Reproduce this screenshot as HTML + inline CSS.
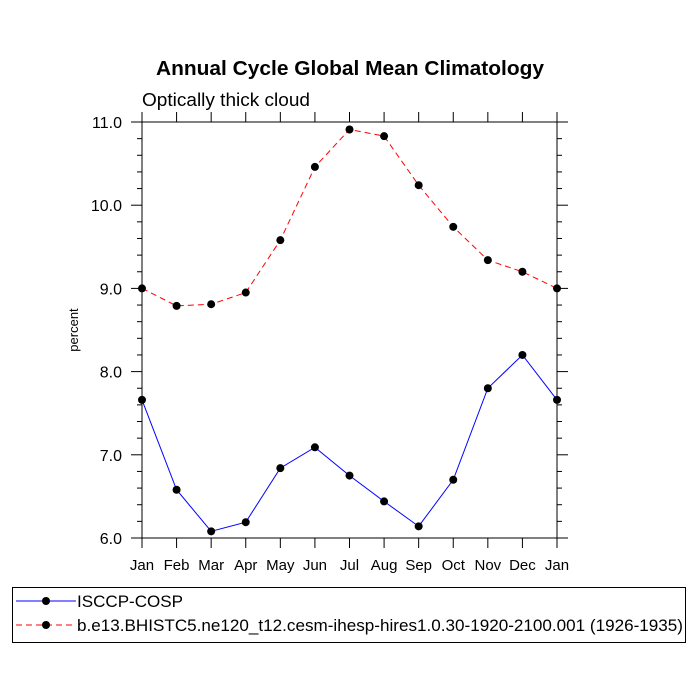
<!DOCTYPE html>
<html><head><meta charset="utf-8"><style>
body{margin:0;background:#fff;}
svg{display:block;font-family:"Liberation Sans",sans-serif;}
</style></head><body>
<svg id="chart" width="700" height="700" viewBox="0 0 700 700">
<rect width="700" height="700" fill="#fff"/>
<text x="350" y="75" text-anchor="middle" font-size="20" font-weight="bold" textLength="388" lengthAdjust="spacingAndGlyphs">Annual Cycle Global Mean Climatology</text>
<text x="142" y="106" font-size="18" textLength="168" lengthAdjust="spacingAndGlyphs">Optically thick cloud</text>
<text transform="translate(78,330) rotate(-90)" text-anchor="middle" font-size="13">percent</text>
<g id="axes"></g>
<g id="series"></g>
<rect x="12.5" y="587.5" width="673" height="55" fill="none" stroke="#000" stroke-width="1"/>
<line x1="16" y1="601" x2="76" y2="601" stroke="#00f" stroke-width="1"/>
<circle cx="46" cy="601" r="4" fill="#000"/>
<text x="77" y="607" font-size="17" textLength="106" lengthAdjust="spacingAndGlyphs">ISCCP-COSP</text>
<line x1="16" y1="625" x2="76" y2="625" stroke="#f00" stroke-width="1" stroke-dasharray="6,4"/>
<circle cx="46" cy="625" r="4" fill="#000"/>
<text x="77" y="631" font-size="17" textLength="606" lengthAdjust="spacingAndGlyphs">b.e13.BHISTC5.ne120_t12.cesm-ihesp-hires1.0.30-1920-2100.001 (1926-1935)</text>
</svg>
<script>
const months = ["Jan","Feb","Mar","Apr","May","Jun","Jul","Aug","Sep","Oct","Nov","Dec","Jan"];
const isccpValues = [7.66,6.58,6.08,6.19,6.84,7.09,6.75,6.44,6.14,6.70,7.80,8.20,7.66];
const modelValues = [9.00,8.79,8.81,8.95,9.58,10.46,10.91,10.83,10.24,9.74,9.34,9.20,9.00];
const yTicks = [6.0,7.0,8.0,9.0,10.0,11.0];
const yTickLabels = ["6.0","7.0","8.0","9.0","10.0","11.0"];

const X0=142,X1=557,Y0=538,Y1=122,YMIN=6,YMAX=11;
const xs=i=>X0+(X1-X0)*i/(months.length-1);
const ys=v=>Y0-(Y0-Y1)*(v-YMIN)/(YMAX-YMIN);
const NS="http://www.w3.org/2000/svg";
function mk(tag,attrs,parent){const e=document.createElementNS(NS,tag);for(const k in attrs)e.setAttribute(k,attrs[k]);parent.appendChild(e);return e;}
const axes=document.getElementById('axes');
const frame=mk('rect',{x:X0,y:Y1,width:X1-X0,height:Y0-Y1,fill:'none',stroke:'#000','stroke-width':1},axes);


months.forEach((m,i)=>{
  const x=xs(i);
  const t1=mk('line',{x1:x,y1:Y0,x2:x,y2:Y0+10,stroke:'#000'},axes);
  
  
  const t2=mk('line',{x1:x,y1:Y1,x2:x,y2:Y1-10,stroke:'#000'},axes);
  
  
  const l=mk('text',{x:x,y:Y0+32,'text-anchor':'middle','font-size':15},axes);
  l.textContent=m;
  
  
});
for(let v=YMIN;v<=YMAX+1e-6;v+=0.2){
  const y=ys(v);const major=Math.abs(v-Math.round(v))<1e-6;const len=major?11:5;
  const a=mk('line',{x1:X0-len,y1:y,x2:X0,y2:y,stroke:'#000'},axes);
  
  
  const b=mk('line',{x1:X1,y1:y,x2:X1+len,y2:y,stroke:'#000'},axes);
  
  
}
yTicks.forEach((v,i)=>{
  const l=mk('text',{x:X0-20,y:ys(v)+6,'text-anchor':'end','font-size':16},axes);
  l.textContent=yTickLabels[i];
  
  
});
const series=document.getElementById('series');
function draw(vals,color,dash,name){
  const p=mk('polyline',{points:vals.map((v,i)=>xs(i)+','+ys(v)).join(' '),fill:'none',stroke:color,'stroke-width':1,'stroke-dasharray':dash},series);
  
  
  vals.forEach((v,i)=>{
    const c=mk('circle',{cx:xs(i),cy:ys(v),r:4,fill:'#000'},series);
    
    
  });
}
draw(isccpValues,'#00f','none','isccp');
draw(modelValues,'#f00','6,4','model');
</script>
</body></html>
